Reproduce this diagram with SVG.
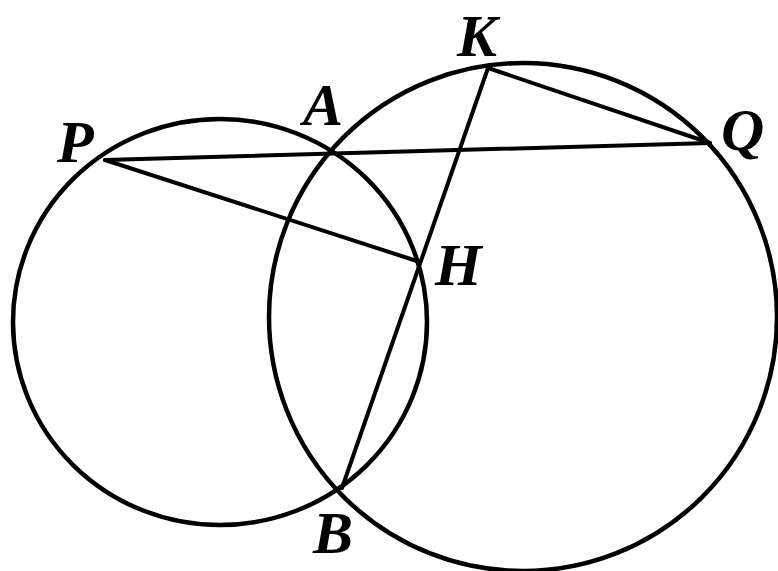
<svg xmlns="http://www.w3.org/2000/svg" width="778" height="571" viewBox="0 0 778 571">
<style>
.c{fill:none;stroke:#000;stroke-width:4.5}
.l{stroke:#000;stroke-width:4;stroke-linecap:round}
.t{font-family:"Liberation Serif","Times New Roman",serif;font-weight:bold;font-style:italic;font-size:60px;fill:#000}
</style>
<rect width="778" height="571" fill="#fff"/>
<g id="circles">
<ellipse id="circle1" class="c" cx="220" cy="322" rx="207" ry="203"/>
<circle id="circle2" class="c" cx="523" cy="317" r="254"/>
</g>
<g id="connectors">
<line class="l" x1="105" y1="160" x2="710" y2="143"/>
<line class="l" x1="105" y1="160" x2="420" y2="262"/>
<line class="l" x1="488" y1="68" x2="342" y2="488"/>
<line class="l" x1="488" y1="68" x2="710" y2="143"/>
</g>
<g id="labels">
<text id="P" class="t" x="57" y="162">P</text>
<text id="A" class="t" x="303" y="125">A</text>
<text id="K" class="t" x="457" y="56">K</text>
<text id="Q" class="t" x="721" y="150">Q</text>
<text id="H" class="t" x="435" y="285">H</text>
<text id="B" class="t" x="313" y="553">B</text>
</g>
</svg>
